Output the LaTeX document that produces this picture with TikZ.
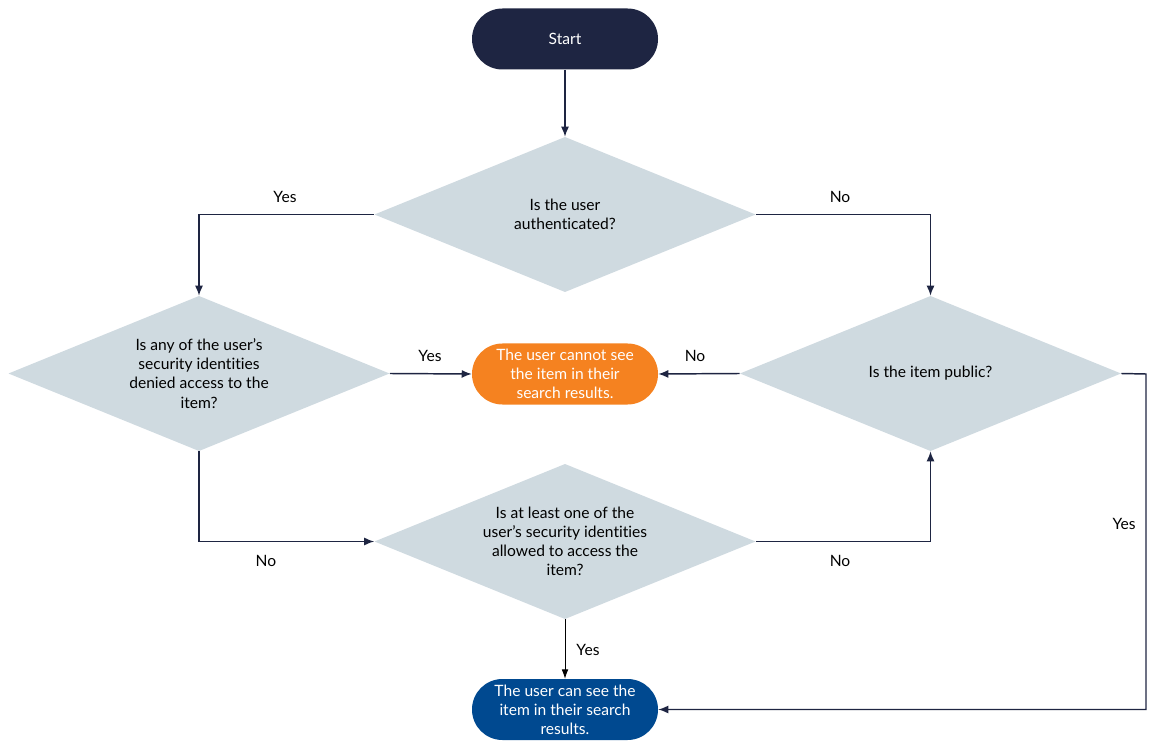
\documentclass[tikz,border=0pt]{standalone}
\usepackage{fontspec}
\setmainfont[Ligatures={NoCommon}]{Lato}
\usetikzlibrary{arrows.meta}
\definecolor{navy}{HTML}{1E2542}
\definecolor{dgray}{HTML}{CFDAE0}
\definecolor{orng}{HTML}{F58220}
\definecolor{blu}{HTML}{004990}
\begin{document}
\begin{tikzpicture}[x=0.75pt,y=-0.75pt,
  every node/.style={font=\fontsize{11.7}{14.3}\selectfont},
  pill/.style={rectangle,rounded corners=22.8pt,minimum width=139.5pt,minimum height=45.75pt,inner sep=0pt,align=center,text=white},
  dia/.style={rectangle,minimum width=285.75pt,minimum height=116.25pt,inner sep=0pt,align=center,text=black,
    path picture={\fill[dgray] (path picture bounding box.north) -- (path picture bounding box.east) -- (path picture bounding box.south) -- (path picture bounding box.west) -- cycle;}},
  conn/.style={draw=navy,line width=1.1pt,-{Latex[length=7.5pt,width=6pt]}},
  thin/.style={draw=black,line width=0.6pt,-{Latex[length=7pt,width=5pt]}},
  lbl/.style={text=black}]
\useasboundingbox (0,0) rectangle (1156,748);
\node[pill,fill=navy] (start) at (565,39) {Start};
\node[dia] (d1) at (565,214.5) {Is the user\\authenticated?};
\node[dia] (d2) at (199,373.5) {Is any of the user’s\\security identities\\denied access to the\\item?};
\node[dia] (d3) at (930.5,373.5) {Is the item public?};
\node[dia] (d4) at (565,541.5) {Is at least one of the\\user’s security identities\\allowed to access the\\item?};
\node[pill,fill=orng] (no) at (565,374) {The user cannot see\\the item in their\\search results.};
\node[pill,fill=blu] (yes) at (565,709.5) {The user can see the\\item in their search\\results.};
\coordinate (r3) at (1146,374);
\coordinate (r3b) at (1146,709.5);
\draw[conn] (start.south) -- (d1.north);
\draw[conn] (d1.west) -| (d2.north);
\draw[conn] (d1.east) -| (d3.north);
\draw[conn] (d2.east) -- (no.west);
\draw[conn] (d3.west) -- (no.east);
\draw[conn] (d2.south) |- (d4.west);
\draw[conn] (d4.east) -| (d3.south);
\draw[thin] (d4.south) -- (yes.north);
\draw[conn] (d3.east) -- (r3) -- (r3b) -- (yes.east);
\node[lbl] (l1) at (285,197) {Yes};
\node[lbl] (l2) at (840,197) {No};
\node[lbl] (l3) at (430,356) {Yes};
\node[lbl] (l4) at (695,356) {No};
\node[lbl] (l5) at (266,561) {No};
\node[lbl] (l6) at (840,561) {No};
\node[lbl] (l7) at (588,650) {Yes};
\node[lbl] (l8) at (1124,524) {Yes};
\end{tikzpicture}
\end{document}
